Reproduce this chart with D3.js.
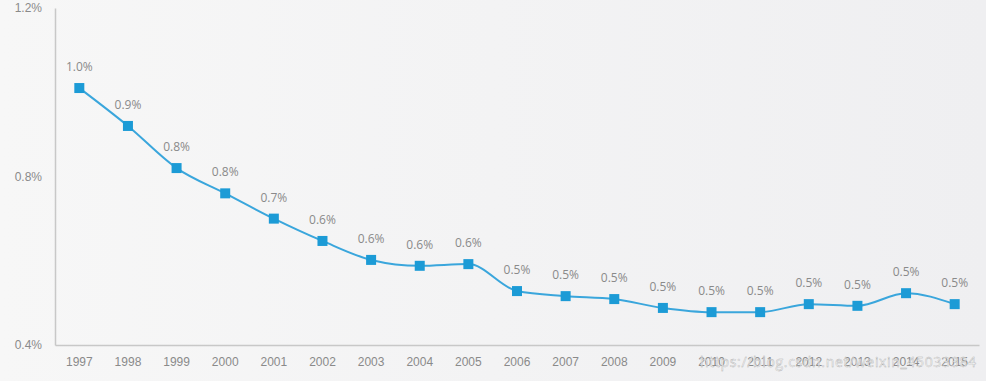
<!DOCTYPE html>
<html>
<head>
<meta charset="utf-8">
<script src="https://cdn.jsdelivr.net/npm/d3@7"></script>
<style>
  body { margin: 0; background: #f5f5f6; }
  svg { display: block; font-family: "Open Sans", "Noto Sans", sans-serif; }
</style>
</head>
<body>
<svg id="chart"></svg>
<script>
const width = 986;
const height = 381;

const years = ["1997","1998","1999","2000","2001","2002","2003","2004","2005","2006",
               "2007","2008","2009","2010","2011","2012","2013","2014","2015"];
const values = [1.01, 0.92, 0.82, 0.76, 0.70, 0.647, 0.602, 0.588, 0.592, 0.528,
                0.516, 0.509, 0.488, 0.478, 0.478, 0.497, 0.493, 0.523, 0.497];
const yTicks = [0.4, 0.8, 1.2];

const svg = d3.select("#chart")
  .attr("width", width)
  .attr("height", height);

// soft background gradient
const grad = svg.append("defs").append("linearGradient")
  .attr("id", "bg")
  .attr("x1", "0%").attr("x2", "100%");
grad.append("stop").attr("offset", "0%").attr("stop-color", "#f7f7f7");
grad.append("stop").attr("offset", "100%").attr("stop-color", "#efeff1");
svg.append("rect").attr("width", width).attr("height", height).attr("fill", "url(#bg)");

const x = d3.scaleBand()
  .domain(years)
  .range([55, 979]);

const y = d3.scaleLinear()
  .domain([0.4, 1.2])
  .range([345, 8]);

// y axis
const yAxis = svg.append("g")
  .attr("transform", "translate(55,0)")
  .call(d3.axisLeft(y).tickValues(yTicks).tickSize(0).tickPadding(13)
    .tickFormat((d) => d.toFixed(1) + "%"));
yAxis.select(".domain").attr("stroke", "#c8c8c8").attr("stroke-width", 1.5);
yAxis.selectAll("text").attr("fill", "#8a8a8a").attr("font-size", "12px");

// x axis
const xAxis = svg.append("g")
  .attr("transform", "translate(0,345)")
  .call(d3.axisBottom(x).tickSize(0).tickPadding(12));
xAxis.select(".domain").attr("stroke", "#c8c8c8").attr("stroke-width", 1.5);
xAxis.selectAll("text").attr("fill", "#8a8a8a").attr("font-size", "12px");

const pts = years.map((yr, i) => ({ year: yr, value: values[i] }));
const cx = (d) => x(d.year) + x.bandwidth() / 2;

const line = d3.line()
  .x(cx)
  .y((d) => y(d.value))
  .curve(d3.curveMonotoneX);

svg.append("path")
  .datum(pts)
  .attr("d", line)
  .attr("fill", "none")
  .attr("stroke", "#3aa6dc")
  .attr("stroke-width", 2);

svg.selectAll("rect.pt")
  .data(pts)
  .join("rect")
  .attr("class", "pt")
  .attr("x", (d) => cx(d) - 5)
  .attr("y", (d) => y(d.value) - 5)
  .attr("width", 10)
  .attr("height", 10)
  .attr("fill", "#1c9bd6");

svg.selectAll("text.lbl")
  .data(pts)
  .join("text")
  .attr("class", "lbl")
  .attr("x", cx)
  .attr("y", (d) => y(d.value) - 17)
  .attr("text-anchor", "middle")
  .attr("font-size", "12px")
  .attr("fill", "#8a8a8a")
  .text((d) => d.value.toFixed(1) + "%");

// watermark
svg.append("text")
  .attr("x", 700)
  .attr("y", 367)
  .attr("font-size", "14px")
  .attr("textLength", 276)
  .attr("fill", "#ffffff")
  .attr("fill-opacity", 0.75)
  .attr("stroke", "#b0b0b0")
  .attr("stroke-width", 0.4)
  .text("https://blog.csdn.net/weixin_45033384");
</script>
</body>
</html>
